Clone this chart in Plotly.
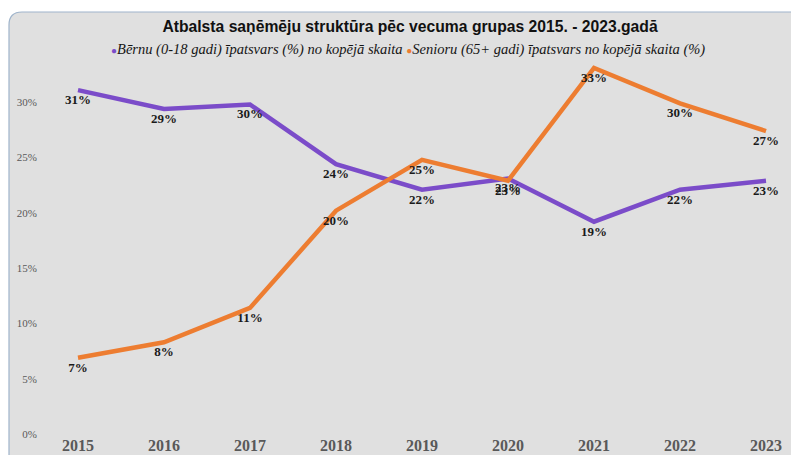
import plotly.graph_objects as go

years = [2015, 2016, 2017, 2018, 2019, 2020, 2021, 2022, 2023]
children = [31.1, 29.4, 29.8, 24.4, 22.1, 23.1, 19.2, 22.1, 22.9]
seniors = [6.9, 8.3, 11.4, 20.2, 24.8, 22.9, 33.1, 29.9, 27.4]
name_children = "Bērnu (0-18 gadi) īpatsvars (%) no kopējā skaita"
name_seniors = "Senioru (65+ gadi) īpatsvars no kopējā skaita (%)"
title_text = "Atbalsta saņēmēju struktūra pēc vecuma grupas 2015. - 2023.gadā"
y_ticks = [0, 5, 10, 15, 20, 25, 30]
y_ticktext = [f"{v}%" for v in y_ticks]

W, H = 791, 455
L, R, T, B = 45, 791, 47, 434
C_PURPLE = "#7B4CC9"
C_ORANGE = "#ED7D31"


def px2x(px):
    return (px - L) / (R - L)


def py2y(py):
    return (B - py) / (B - T)


# rounded frame path (paper coords)
x0, x1, y0, y1, r = 9, 840, 12, 490, 13
path = (
    f"M {px2x(x0)} {py2y(y0 + r)} "
    f"Q {px2x(x0)} {py2y(y0)} {px2x(x0 + r)} {py2y(y0)} "
    f"L {px2x(x1 - r)} {py2y(y0)} "
    f"Q {px2x(x1)} {py2y(y0)} {px2x(x1)} {py2y(y0 + r)} "
    f"L {px2x(x1)} {py2y(y1)} "
    f"L {px2x(x0)} {py2y(y1)} Z"
)

fig = go.Figure()
fig.add_trace(go.Scatter(x=years, y=children, mode="lines", name=name_children,
                         line=dict(color=C_PURPLE, width=4.5), showlegend=False, hoverinfo="skip"))
fig.add_trace(go.Scatter(x=years, y=seniors, mode="lines", name=name_seniors,
                         line=dict(color=C_ORANGE, width=4.5), showlegend=False, hoverinfo="skip"))
lab_font = dict(family="Liberation Serif", size=13, color="#1a1a1a", weight="bold")
for vals in (children, seniors):
    fig.add_trace(go.Scatter(x=years, y=vals, mode="markers+text", texttemplate="%{y:.0f}%",
                             marker=dict(size=5, opacity=0), textposition="bottom center",
                             textfont=lab_font, showlegend=False, hoverinfo="skip"))

legend_text = (
    f'<span style="color:{C_PURPLE};font-size:10px;font-style:normal">●</span>'
    f"{name_children} "
    f'<span style="color:{C_ORANGE};font-size:10px;font-style:normal">●</span>'
    f"{name_seniors}"
)

fig.update_layout(
    width=W, height=H,
    margin=dict(l=L, r=W - R, t=T, b=H - B),
    paper_bgcolor="white",
    plot_bgcolor="rgba(0,0,0,0)",
    showlegend=False,
    title=dict(text=title_text, x=410 / W, xanchor="center", y=1 - 27 / H, yanchor="middle",
               font=dict(family="Liberation Sans", size=15.7, color="#111111", weight="bold")),
    annotations=[dict(text=legend_text, xref="paper", yref="paper", x=px2x(408), y=py2y(49),
                      xanchor="center", yanchor="middle", showarrow=False,
                      font=dict(family="Liberation Serif", size=14.5, color="#151515", style="italic"))],
    shapes=[dict(type="path", xref="paper", yref="paper", path=path, layer="below",
                 fillcolor="#E0E0E0", line=dict(color="#9FB4CB", width=1.2))],
    xaxis=dict(range=[2015 - (78 - L) / 86, 2015 + (R - 78) / 86], tickvals=years,
               tickformat="d", showgrid=False, zeroline=False, showline=False,
               tickfont=dict(family="Liberation Serif", size=16, color="#595959", weight="bold")),
    yaxis=dict(range=[0, 35], tickvals=y_ticks, ticktext=y_ticktext, showgrid=False, zeroline=False,
               showline=False, ticklabelstandoff=7,
               tickfont=dict(family="Liberation Serif", size=11, color="#595959")),
)

fig.write_html("out.html", config={"displayModeBar": False},
               post_script="document.body.style.margin='0';")
